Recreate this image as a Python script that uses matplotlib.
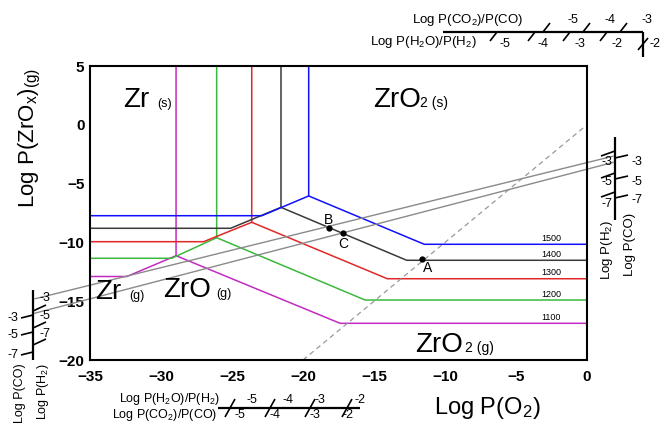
import matplotlib
matplotlib.use('Agg')
import matplotlib.pyplot as plt
from matplotlib.lines import Line2D

plt.rcParams['font.family'] = ['Liberation Sans', 'DejaVu Sans']
plt.rcParams['mathtext.default'] = 'regular'

# --- data ---
temps = [1500, 1400, 1300, 1200, 1100]
colors = ['#1010ff', '#3a3a3a', '#e02828', '#3cb83c', '#c22bc2']
h_zr_g = [-7.73, -8.8, -9.94, -11.35, -12.9]        # Zr(s)/Zr(g) level
x_knee_lo = [-22.9, -25.1, -27.0, -29.25, -32.4]
x_triple = [-19.6, -21.55, -23.61, -26.08, -28.94]
y_triple = [-6.05, -7.02, -8.29, -9.6, -11.13]
x_knee_hi = [-11.46, -12.7, -14.06, -15.63, -17.39]
h_zro2_g = [-10.16, -11.52, -13.09, -14.9, -16.88]  # ZrO2(s)/ZrO2(g) level

pt_names = ['A', 'B', 'C']
pt_x = [-11.6, -18.15, -17.16]
pt_y = [-11.44, -8.78, -9.2]

gas_line_x = [[-38.87, 1.83], [-39.01, 1.83]]
gas_line_y = [[-14.79, -2.67], [-16.06, -3.2]]
diag_x = [-20, 0]
diag_y = [-20, 0]

xticks = [-35, -30, -25, -20, -15, -10, -5, 0]
yticks = [-20, -15, -10, -5, 0, 5]

W, H = 664, 423
fig = plt.figure(figsize=(W / 100, H / 100), dpi=100)
ax = fig.add_axes([90 / W, 1 - 360 / H, (587 - 90) / W, (360 - 66) / H])


def fp(px, py):
    return px / W, 1 - py / H


def fline(p1, p2, lw=1.6, color='k'):
    (x1, y1), (x2, y2) = fp(*p1), fp(*p2)
    fig.add_artist(Line2D([x1, x2], [y1, y2], transform=fig.transFigure,
                          color=color, lw=lw, solid_capstyle='butt'))


def ftext(px, py, s, **kw):
    kw.setdefault('fontsize', 9)
    fig.text(*fp(px, py), s, **kw)


# --- temperature boundaries ---
for i in range(len(temps) - 1, -1, -1):
    c = colors[i]
    ax.plot([-35, x_knee_lo[i], x_triple[i], x_triple[i]],
            [h_zr_g[i], h_zr_g[i], y_triple[i], 5], color=c, lw=1.1)
    ax.plot([x_triple[i], x_knee_hi[i], 0],
            [y_triple[i], h_zro2_g[i], h_zro2_g[i]], color=c, lw=1.1)
    ax.text(-2.5, h_zro2_g[i] + 0.5, str(temps[i]), fontsize=6.5,
            ha='center', va='center')

ax.plot(diag_x, diag_y, color='#999999', lw=0.9, ls=(0, (4, 3)))
for gx, gy in zip(gas_line_x, gas_line_y):
    ax.plot(gx, gy, color='#8a8a8a', lw=1.0, clip_on=False)

ax.plot(pt_x, pt_y, 'o', color='k', ms=3.5)
lab_off = {'A': (0.4, -0.75), 'B': (-0.05, 0.7), 'C': (0.0, -0.95)}
for n, x, y in zip(pt_names, pt_x, pt_y):
    dx, dy = lab_off[n]
    ax.text(x + dx, y + dy, n, fontsize=10, ha='center', va='center')

# --- phase field labels ---
big, small = 20, 9
ax.text(-32.68, 1.54, 'Zr', fontsize=big, va='baseline')
ax.text(-30.28, 1.54, '(s)', fontsize=small, va='baseline')
ax.text(-15.07, 1.51, 'ZrO', fontsize=big, va='baseline')
ax.text(-11.76, 1.51, '2 (s)', fontsize=small + 1, va='baseline')
ax.text(-34.65, -14.81, 'Zr', fontsize=big, va='baseline')
ax.text(-32.25, -14.81, '(g)', fontsize=small, va='baseline')
ax.text(-29.86, -14.64, 'ZrO', fontsize=big, va='baseline')
ax.text(-26.13, -14.64, '(g)', fontsize=small, va='baseline')
ax.text(-12.11, -19.32, 'ZrO', fontsize=big, va='baseline')
ax.text(-8.59, -19.32, '2 (g)', fontsize=small + 1, va='baseline')

ax.set_xlim(-35, 0)
ax.set_ylim(-20, 5)
ax.set_xticks(xticks)
ax.set_yticks(yticks)
ax.tick_params(length=0, labelsize=11)
ax.tick_params(axis='x', pad=7)
ax.tick_params(axis='y', pad=4)
for lab in ax.get_xticklabels() + ax.get_yticklabels():
    lab.set_fontweight('bold')
for sp in ax.spines.values():
    sp.set_linewidth(1.5)

ftext(487, 408, r'Log P(O$_2$)', fontsize=17, ha='center', va='center')
ftext(30, 138, r'Log P(ZrO$_x$)$_{(g)}$', fontsize=16, ha='center',
      va='center', rotation=90)

# --- top ratio scale ---
fline((443, 32), (643, 32))
fline((643, 32), (643, 57))
for x in [543, 583, 620]:
    fline((x, 32), (x + 7, 23), lw=1.2)
for x in [497, 535, 570, 607]:
    fline((x - 7, 41), (x, 32), lw=1.2)
fline((638, 50), (648, 38), lw=1.2)
for x, s in zip([573, 610, 647], ['-5', '-4', '-3']):
    ftext(x, 20, s, ha='center', va='center')
for x, s in zip([505, 543, 580, 617, 655], ['-5', '-4', '-3', '-2', '-2']):
    ftext(x, 44, s, ha='center', va='center')
ftext(523, 20, r'Log P(CO$_2$)/P(CO)', ha='right', va='center', fontsize=9.5)
ftext(477, 42, r'Log P(H$_2$O)/P(H$_2$)', ha='right', va='center', fontsize=9.5)

# --- bottom ratio scale ---
fline((218, 408), (360, 408))
for x in [230, 270, 310, 347]:
    fline((x - 5, 417), (x + 5, 399), lw=1.2)
for x, s in zip([252, 288, 320, 360], ['-5', '-4', '-3', '-2']):
    ftext(x, 400, s, ha='center', va='center')
for x, s in zip([240, 275, 315, 348], ['-5', '-4', '-3', '-2']):
    ftext(x, 415, s, ha='center', va='center')
ftext(220, 399, r'Log P(H$_2$O)/P(H$_2$)', ha='right', va='center', fontsize=9)
ftext(217, 415, r'Log P(CO$_2$)/P(CO)', ha='right', va='center', fontsize=9)

# --- left pressure scale ---
fline((33, 290), (33, 360))
for y in [317, 334, 354]:
    fline((21, y + 1), (33, y - 2), lw=1.2)
for y in [309, 326, 343]:
    fline((33, y + 2), (46, y - 4), lw=1.2)
for y, s in zip([318, 335, 355], ['-3', '-5', '-7']):
    ftext(13, y, s, ha='center', va='center')
for y, s in zip([298, 316, 334], ['-3', '-5', '-7']):
    ftext(45, y, s, ha='center', va='center')
ftext(20, 363, 'Log P(CO)', rotation=90, ha='center', va='top', fontsize=9)
ftext(43, 363, r'Log P(H$_2$)', rotation=90, ha='center', va='top', fontsize=9)

# --- right pressure scale ---
fline((615, 137), (615, 220))
for y in [152, 174, 193]:
    fline((601, y + 4), (615, y - 1), lw=1.2)
for y in [158, 179, 198]:
    fline((615, y), (628, y - 3), lw=1.2)
for y, s in zip([162, 182, 204], ['-3', '-5', '-7']):
    ftext(607, y, s, ha='center', va='center')
for y, s in zip([162, 182, 200], ['-3', '-5', '-7']):
    ftext(637, y, s, ha='center', va='center')
ftext(607, 220, r'Log P(H$_2$)', rotation=90, ha='center', va='top', fontsize=9.5)
ftext(630, 213, 'Log P(CO)', rotation=90, ha='center', va='top', fontsize=9.5)

fig.savefig('out.png', dpi=100)
